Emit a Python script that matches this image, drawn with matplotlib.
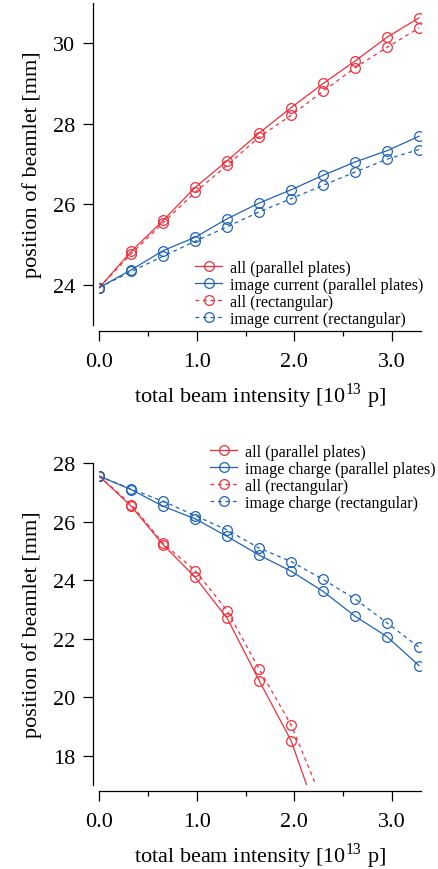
import numpy as np
import matplotlib.pyplot as plt

plt.rcParams['font.family'] = ['Liberation Serif', 'DejaVu Serif']
plt.rcParams['mathtext.fontset'] = 'stix'

# beam intensity steps [1e13 p]
intensity = [0.0, 0.328, 0.656, 0.984, 1.312, 1.64, 1.968, 2.296, 2.624, 2.952, 3.28]

# upper panel: image current
top_all_pp = [23.93, 24.83, 25.60, 26.42, 27.08, 27.77, 28.40, 29.00, 29.56, 30.15, 30.63]
top_img_pp = [23.93, 24.37, 24.85, 25.18, 25.64, 26.03, 26.36, 26.72, 27.05, 27.33, 27.69]
top_all_rect = [23.93, 24.77, 25.54, 26.30, 26.97, 27.67, 28.21, 28.81, 29.39, 29.90, 30.38]
top_img_rect = [23.93, 24.33, 24.71, 25.08, 25.44, 25.81, 26.14, 26.47, 26.80, 27.12, 27.36]

# lower panel: image charge (the "all" series leave the plot after ~2.0)
bot_all_pp = [27.56, 26.53, 25.21, 24.10, 22.70, 20.57, 18.51, 15.40]
bot_img_pp = [27.56, 27.10, 26.53, 26.10, 25.50, 24.86, 24.31, 23.62, 22.77, 22.07, 21.08]
bot_all_rect = [27.56, 26.59, 25.26, 24.33, 22.96, 20.96, 19.05, 16.40]
bot_img_rect = [27.56, 27.12, 26.70, 26.21, 25.72, 25.10, 24.64, 24.03, 23.36, 22.54, 21.71]

RED = '#ef2f3c'
BLUE = '#1f63b7'


def draw(ax, series, labels, ylim, yticks, legend_loc, legend_anchor):
    for (y, color, ls), label in zip(series, labels):
        x = intensity[:len(y)]
        ax.plot(x, y, color=color, ls=ls, lw=0.9, marker='o', ms=7,
                mfc='none', mew=0.9, label=label,
                dashes=(3, 3) if ls == '--' else (None, None))
    ax.set_xlim(0, 3.3)
    ax.set_ylim(*ylim)
    ax.set_yticks(yticks)
    ax.set_xticks([0, 1, 2, 3])
    ax.set_xticklabels(['0.0', '1.0', '2.0', '3.0'])
    ax.set_xticks([0.5, 1.5, 2.5], minor=True)
    for s in ['top', 'right']:
        ax.spines[s].set_visible(False)
    for s in ['left', 'bottom']:
        ax.spines[s].set_position(('outward', 4.5))
        ax.spines[s].set_linewidth(0.9)
    ax.tick_params(which='major', length=7, width=0.9, labelsize=16, pad=6)
    ax.tick_params(axis='x', which='major', pad=8)
    ax.tick_params(which='minor', length=3.5, width=0.9)
    ax.set_xlabel(r'total beam intensity [10$^{\mathregular{13}}$ p]', fontsize=16, labelpad=7)
    ax.set_ylabel('position of beamlet [mm]', fontsize=16, labelpad=8)
    leg = ax.legend(loc=legend_loc, bbox_to_anchor=legend_anchor, frameon=False,
                    fontsize=11.6, labelspacing=0.06, handlelength=1.7,
                    handletextpad=0.5, borderpad=0, borderaxespad=0)
    return leg


fig = plt.figure(figsize=(4.39, 8.70), dpi=100)
ax1 = fig.add_axes([0.2262, 0.6253, 0.7328, 0.3701])
ax2 = fig.add_axes([0.2262, 0.0966, 0.7328, 0.3697])

draw(ax1,
     [(top_all_pp, RED, '-'), (top_img_pp, BLUE, '-'),
      (top_all_rect, RED, '--'), (top_img_rect, BLUE, '--')],
     ['all (parallel plates)', 'image current (parallel plates)',
      'all (rectangular)', 'image current (rectangular)'],
     (23, 31), [24, 26, 28, 30], 'lower left', (0.297, -0.005))

draw(ax2,
     [(bot_all_pp, RED, '-'), (bot_img_pp, BLUE, '-'),
      (bot_all_rect, RED, '--'), (bot_img_rect, BLUE, '--')],
     ['all (parallel plates)', 'image charge (parallel plates)',
      'all (rectangular)', 'image charge (rectangular)'],
     (17, 28), [18, 20, 22, 24, 26, 28], 'upper left', (0.344, 1.06))

fig.savefig('out.png', dpi=100)
